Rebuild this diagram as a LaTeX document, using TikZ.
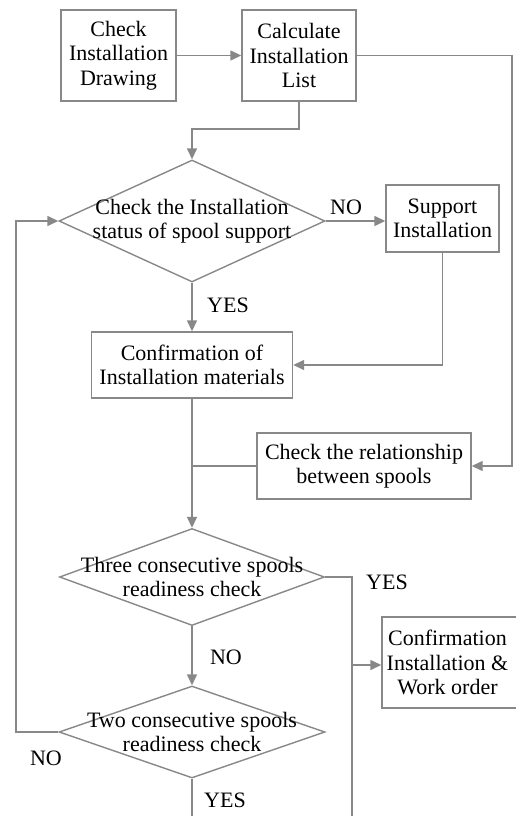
\documentclass[tikz,border=0pt]{standalone}
\usepackage{fontspec}
\setmainfont{Liberation Serif}
\usetikzlibrary{arrows.meta,shapes.geometric}
\definecolor{linegray}{RGB}{136,136,136}
\tikzset{
  every node/.style={font=\fontsize{22}{24.5}\selectfont},
  box/.style={draw=linegray, line width=1.4pt, rectangle, inner sep=0pt, align=center},
  dia/.style={draw=linegray, line width=1.4pt, diamond, inner sep=0pt},
  txt/.style={inner sep=0pt, align=center},
  lbl/.style={inner sep=0pt},
  conn/.style={draw=linegray, line width=1.4pt},
  arr/.style={conn, -{Triangle[length=11pt,width=10pt]}}
}
\begin{document}
\begin{tikzpicture}[x=1pt,y=-1pt]
\useasboundingbox (0,0) rectangle (515,816);

% process boxes
\node[box, minimum width=115pt, minimum height=91pt] (drw) at (118.5,55.5) {Check\\Installation\\Drawing};
\node[box, minimum width=114pt, minimum height=91pt] (lst) at (299,55.5) {Calculate\\Installation\\List};
\node[box, minimum width=113pt, minimum height=67pt] (sup) at (442.5,218.5) {Support\\Installation};
\node[box, minimum width=201pt, minimum height=66pt] (mat) at (192,365) {Confirmation of\\Installation materials};
\node[box, minimum width=214pt, minimum height=66pt] (rel) at (364,466) {Check the relationship\\between spools};
\node[box, minimum width=140pt, minimum height=91pt] (wo) at (452,662.5) {};
\node[txt] (wotxt) at (447.5,662.5) {Confirmation\\Installation \&\\Work order};

% decisions
\node[dia, minimum width=266pt, minimum height=122pt] (d1) at (192,221) {};
\node[txt] (d1txt) at (d1.center) {Check the Installation\\status of spool support};
\node[dia, minimum width=265pt, minimum height=97pt] (d2) at (192,577) {};
\node[txt] (d2txt) at (d2.center) {Three consecutive spools\\readiness check};
\node[dia, minimum width=266pt, minimum height=92pt] (d3) at (192,732) {};
\node[txt] (d3txt) at (d3.center) {Two consecutive spools\\readiness check};

% branch labels
\node[lbl] (no1) at (346,207) {NO};
\node[lbl] (yes1) at (228,305) {YES};
\node[lbl] (yes2) at (387,582) {YES};
\node[lbl] (no2) at (226,657) {NO};
\node[lbl] (no3) at (46,758) {NO};
\node[lbl] (yes3) at (225,800) {YES};

% helper points
\coordinate (drop) at (299,129);
\coordinate (rtop) at (512,55.5);
\coordinate (join) at (352,665);
\coordinate (loop) at (16,732);
\coordinate (low) at (192,840);

% connectors
\draw[arr] (drw.east) -- (lst.west);
\draw[arr] (lst.south) -- (drop) -| (d1.north);
\draw[arr] (lst.east) -- (rtop) |- (rel.east);
\draw[arr] (d1.east) -- (d1.east -| sup.west);
\draw[arr] (d1.south) -- (mat.north);
\draw[arr] (sup.south) |- (mat.east);
\draw[arr] (mat.south) -- (d2.north);
\draw[conn] (rel.west) -- (rel.west -| mat.south);
\draw[arr] (d2.south) -- (d3.north);
\draw[conn] (d2.east) -| (join);
\draw[arr] (join) -- (wo.west |- join);
\draw[conn] (d3.south) -- (low) -| (join);
\draw[arr] (d3.west) -- (loop) |- (d1.west);
\end{tikzpicture}
\end{document}
